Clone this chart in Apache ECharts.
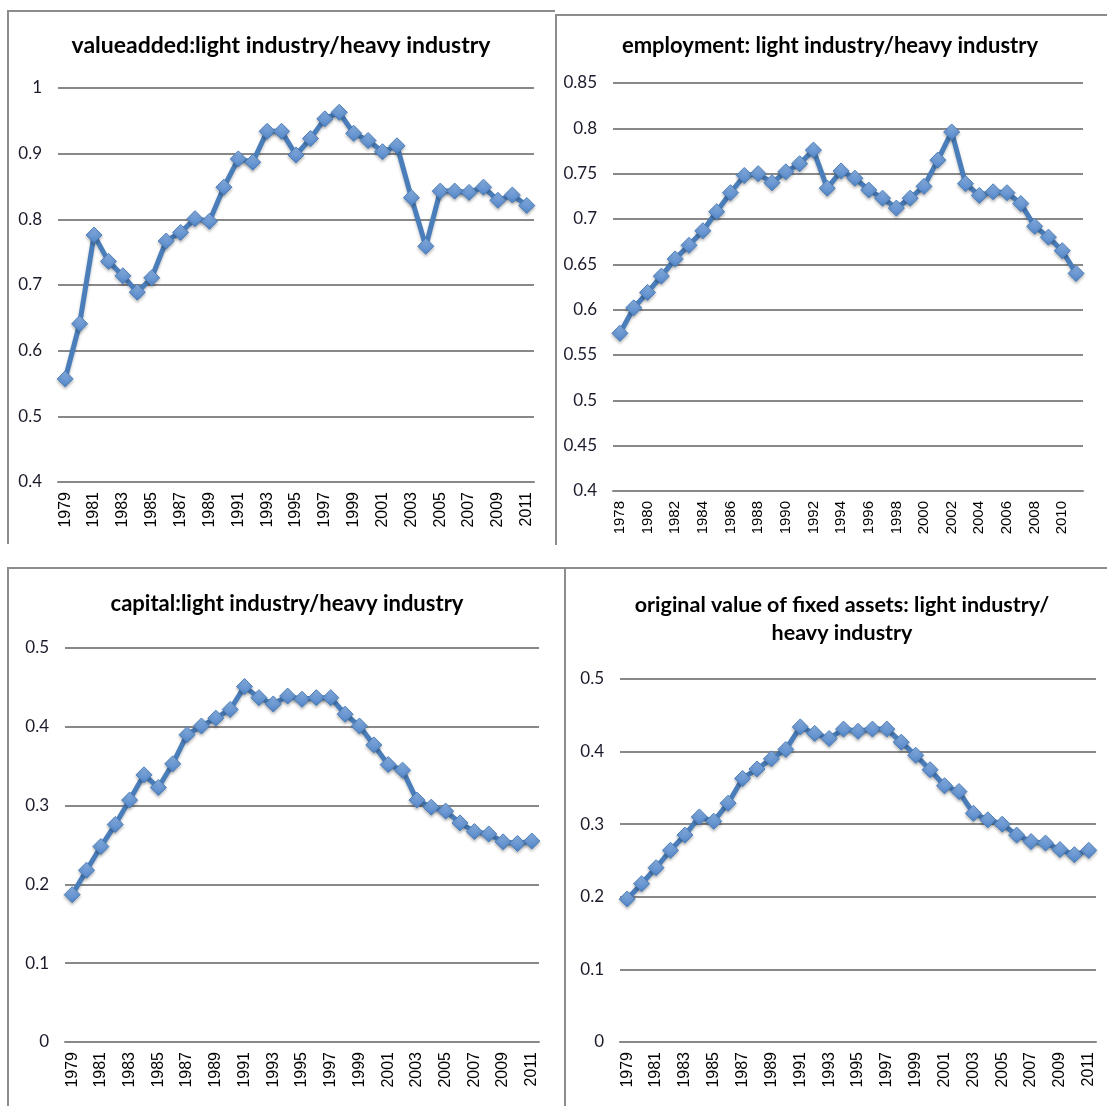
<!DOCTYPE html>
<html>
<head>
<meta charset="utf-8">
<title>light industry / heavy industry</title>
<script src="https://cdn.jsdelivr.net/npm/echarts@6/dist/echarts.min.js"></script>
<style>
  html, body { margin: 0; padding: 0; background: #fff; }
  #main { width: 1107px; height: 1106px; }
</style>
</head>
<body>
<div id="main"></div>
<script>
// year categories
var years79 = ['1979','1980','1981','1982','1983','1984','1985','1986','1987','1988','1989',
  '1990','1991','1992','1993','1994','1995','1996','1997','1998','1999','2000',
  '2001','2002','2003','2004','2005','2006','2007','2008','2009','2010','2011'];
var years78 = ['1978','1979','1980','1981','1982','1983','1984','1985','1986','1987','1988','1989',
  '1990','1991','1992','1993','1994','1995','1996','1997','1998','1999','2000',
  '2001','2002','2003','2004','2005','2006','2007','2008','2009','2010','2011'];

// ratios light / heavy
var valueAdded = [0.557,0.641,0.776,0.736,0.714,0.689,0.711,0.767,0.780,0.801,0.797,
  0.849,0.892,0.887,0.934,0.934,0.898,0.923,0.953,0.963,0.931,0.920,
  0.903,0.912,0.833,0.759,0.843,0.843,0.841,0.849,0.829,0.837,0.821];
var employment = [0.574,0.602,0.619,0.637,0.656,0.671,0.687,0.708,0.729,0.748,0.750,0.740,
  0.752,0.761,0.776,0.734,0.753,0.745,0.732,0.723,0.712,0.723,0.736,
  0.765,0.796,0.739,0.726,0.730,0.729,0.717,0.692,0.680,0.665,0.640];
var capital = [0.187,0.218,0.248,0.276,0.307,0.339,0.323,0.353,0.390,0.401,0.411,
  0.422,0.451,0.437,0.429,0.439,0.435,0.437,0.437,0.416,0.401,0.377,
  0.352,0.345,0.307,0.298,0.293,0.278,0.267,0.264,0.254,0.252,0.255];
var fixedAssets = [0.197,0.218,0.240,0.264,0.285,0.310,0.304,0.329,0.363,0.376,0.390,
  0.403,0.434,0.425,0.418,0.431,0.428,0.431,0.431,0.413,0.395,0.375,
  0.353,0.345,0.315,0.306,0.300,0.285,0.276,0.274,0.265,0.258,0.264];

var titles = [
  'valueadded:light industry/heavy industry',
  'employment: light industry/heavy industry',
  'capital:light industry/heavy industry',
  'original value of fixed assets: light industry/\nheavy industry'
];

var myChart = echarts.init(document.getElementById('main'));

var gridColor = '#888888';
var lineColor = '#4A7EBB';

// one panel = grid + axes + series
var panels = [
  { grid: {left: 58, top: 88, width: 476, height: 394}, cats: years79, data: valueAdded, min: 0.4, max: 1, step: 0.1,
    title: {left: 281, top: 32, size: 23}, xFont: 16 },
  { grid: {left: 613, top: 83, width: 470, height: 408}, cats: years78, data: employment, min: 0.4, max: 0.85, step: 0.05,
    title: {left: 830, top: 32, size: 22}, xFont: 15 },
  { grid: {left: 65, top: 648, width: 474, height: 394}, cats: years79, data: capital, min: 0, max: 0.5, step: 0.1,
    title: {left: 287, top: 590, size: 22}, xFont: 16 },
  { grid: {left: 620, top: 679, width: 476, height: 363}, cats: years79, data: fixedAssets, min: 0, max: 0.5, step: 0.1,
    title: {left: 842, top: 591, size: 21.5}, xFont: 16 }
];

var option = {
  animation: false,
  backgroundColor: '#ffffff',
  title: [],
  grid: [],
  xAxis: [],
  yAxis: [],
  series: [],
  graphic: [
    // frames of the four excel charts
    {type: 'polyline', shape: {points: [[8, 544], [8, 11], [555, 11]]}, style: {stroke: '#8c8c8c', lineWidth: 2, fill: null}},
    {type: 'polyline', shape: {points: [[556, 545], [556, 15], [1107, 15]]}, style: {stroke: '#8c8c8c', lineWidth: 2, fill: null}},
    {type: 'polyline', shape: {points: [[8, 1106], [8, 568], [1107, 568]]}, style: {stroke: '#8c8c8c', lineWidth: 2, fill: null}},
    {type: 'line', shape: {x1: 565, y1: 568, x2: 565, y2: 1106}, style: {stroke: '#8c8c8c', lineWidth: 2}}
  ]
};

panels.forEach(function (p, i) {
  option.title.push({
    text: titles[i],
    left: p.title.left,
    top: p.title.top,
    padding: 0,
    textAlign: 'center',
    textStyle: {fontFamily: 'Lato', fontWeight: 'bold', fontSize: p.title.size, color: '#000', lineHeight: 28}
  });
  option.grid.push(p.grid);
  option.xAxis.push({
    type: 'category',
    gridIndex: i,
    data: p.cats,
    boundaryGap: true,
    axisTick: {show: false},
    axisLine: {lineStyle: {color: gridColor, width: 2}},
    axisLabel: {interval: 1, rotate: 90, margin: 10, fontFamily: 'Liberation Sans', fontSize: p.xFont, color: '#000'}
  });
  option.yAxis.push({
    type: 'value',
    gridIndex: i,
    min: p.min,
    max: p.max,
    interval: p.step,
    axisLine: {show: false},
    axisTick: {show: false},
    splitLine: {lineStyle: {color: gridColor, width: 2}},
    axisLabel: {margin: 16, fontFamily: 'Lato', fontSize: 17, color: '#1a1a2a'}
  });
  option.series.push({
    type: 'line',
    xAxisIndex: i,
    yAxisIndex: i,
    data: p.data,
    symbol: 'diamond',
    symbolSize: 16,
    showAllSymbol: true,
    lineStyle: {color: lineColor, width: 5, shadowColor: 'rgba(0,0,0,0.25)', shadowBlur: 3, shadowOffsetY: 2},
    itemStyle: {
      color: new echarts.graphic.LinearGradient(0, 0, 0, 1, [
        {offset: 0, color: '#8DB4E6'},
        {offset: 1, color: '#4F82C4'}
      ]),
      borderColor: '#4A7EBB',
      borderWidth: 1,
      shadowColor: 'rgba(0,0,0,0.25)',
      shadowBlur: 3,
      shadowOffsetY: 2
    }
  });
});

myChart.setOption(option);
</script>
</body>
</html>
